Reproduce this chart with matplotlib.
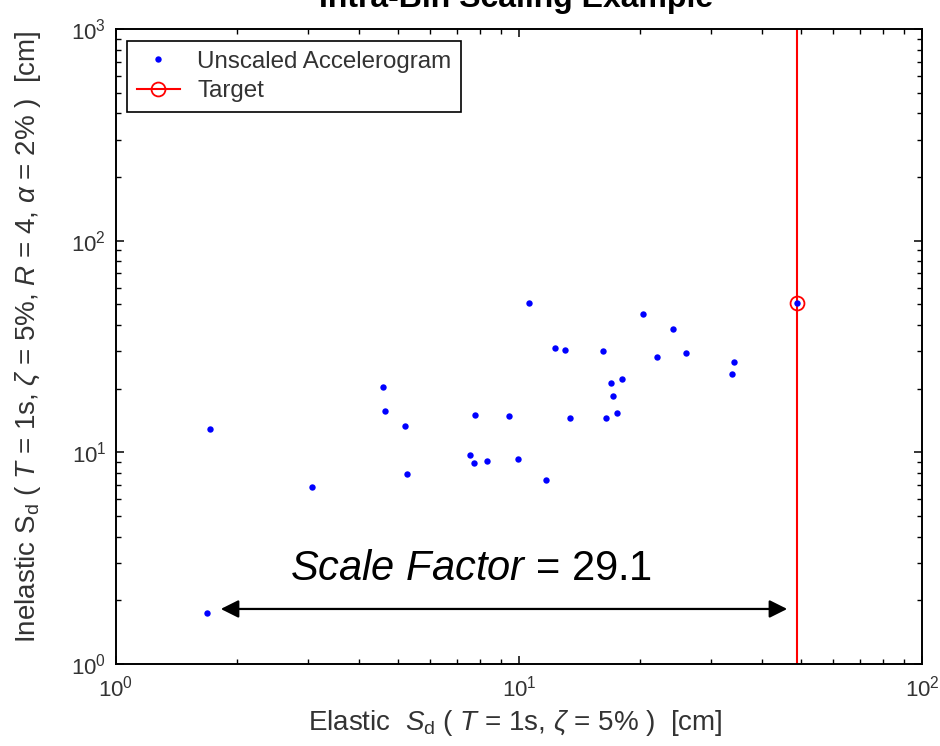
import matplotlib
matplotlib.use("Agg")
import matplotlib.pyplot as plt
from matplotlib.ticker import LogLocator, NullFormatter

plt.rcParams["font.family"] = ["Liberation Sans", "DejaVu Sans"]
plt.rcParams["mathtext.fontset"] = "custom"
plt.rcParams["mathtext.rm"] = "Liberation Sans"
plt.rcParams["mathtext.it"] = "Liberation Sans:italic"
plt.rcParams["mathtext.bf"] = "Liberation Sans:bold"

# unscaled accelerograms (elastic Sd, inelastic Sd) [cm]
elastic_sd = [1.68, 1.71, 3.07, 4.59, 4.64, 5.21, 5.27, 7.56, 7.72, 7.79, 8.33,
              9.45, 9.96, 10.6, 11.67, 12.3, 13.0, 13.4, 16.2, 16.4, 16.9, 17.1,
              17.5, 18.0, 20.3, 22.0, 24.1, 25.9, 33.8, 34.1, 48.9]
inelastic_sd = [1.735, 12.85, 6.86, 20.4, 15.7, 13.35, 7.90, 9.68, 8.93, 15.05, 9.10,
                14.8, 9.30, 50.7, 7.42, 31.2, 30.5, 14.5, 30.0, 14.5, 21.3, 18.5,
                15.4, 22.2, 45.0, 28.2, 38.2, 29.4, 23.5, 26.6, 50.5]

target_x = 48.9
target_y = 50.5
scale_factor = 29.1

# scale-factor arrow ends (data units)
arrow_x = [1.82, 46.3]
arrow_y = 1.82

fig = plt.figure(figsize=(9.4, 7.46), dpi=100)
ax = fig.add_axes([0.1234, 0.1099, 0.8574, 0.8512])

ax.axvline(target_x, color="#ff0000", lw=1.5, zorder=2)
ax.plot([target_x], [target_y], "o", ms=10, mfc="none", mec="#ff0000", mew=1.3, zorder=3)
ax.plot(elastic_sd, inelastic_sd, "o", ms=4.6, color="#0000ff", mew=0, zorder=4,
        label="Unscaled Accelerogram")
ax.plot([], [], "-o", color="#ff0000", ms=10, mfc="none", mew=1.3, lw=1.5, label="Target")

ax.set_xscale("log"); ax.set_yscale("log")
ax.set_xlim(1, 100); ax.set_ylim(1, 1000)
for a in (ax.xaxis, ax.yaxis):
    a.set_minor_locator(LogLocator(base=10, subs=range(2, 10)))
    a.set_minor_formatter(NullFormatter())
ax.tick_params(which="both", direction="in", top=True, right=True, labelsize=16,
               labelcolor="#333333", color="black")
ax.tick_params(which="major", length=6, width=1.1, pad=7)
ax.tick_params(axis="x", which="major", pad=8)
ax.tick_params(which="minor", length=3.5, width=1.0)
for s in ax.spines.values():
    s.set_linewidth(1.4)

ax.annotate("", xy=(arrow_x[1], arrow_y), xytext=(arrow_x[0], arrow_y),
            arrowprops=dict(arrowstyle="<|-|>", color="black", lw=1.6,
                            mutation_scale=27, shrinkA=0, shrinkB=0))
ax.text(7.6, 2.49, r"$\mathit{Scale\ Factor}$ = %.1f" % scale_factor, fontsize=30,
        ha="center", va="baseline")

ax.set_xlabel(r"Elastic  $S_{\rm d}$ ( $T$ = 1s, $\zeta$ = 5% )  [cm]", fontsize=20,
              color="#333333")
ax.set_ylabel(r"Inelastic $\rm S_d$ ( $T$ = 1s, $\zeta$ = 5%, $R$ = 4, $\alpha$ = 2% )  [cm]",
              fontsize=20, color="#333333")
ax.xaxis.set_label_coords(0.496, -0.069)
ax.yaxis.set_label_coords(-0.090, 0.515)
fig.text(516/940, 1 - 7/746, "Intra-Bin Scaling Example", fontsize=23, fontweight="bold",
         ha="center", va="baseline")

leg = ax.legend(loc="upper left", bbox_to_anchor=(0.0136, 0.981), borderaxespad=0,
                fontsize=17.4, handlelength=1.8, handletextpad=0.7, borderpad=0.4,
                labelspacing=0.3, fancybox=False, framealpha=1, edgecolor="black",
                numpoints=1)
leg.get_frame().set_linewidth(1.2)
for t in leg.get_texts():
    t.set_color("#333333")

fig.savefig("out.png", dpi=100)
